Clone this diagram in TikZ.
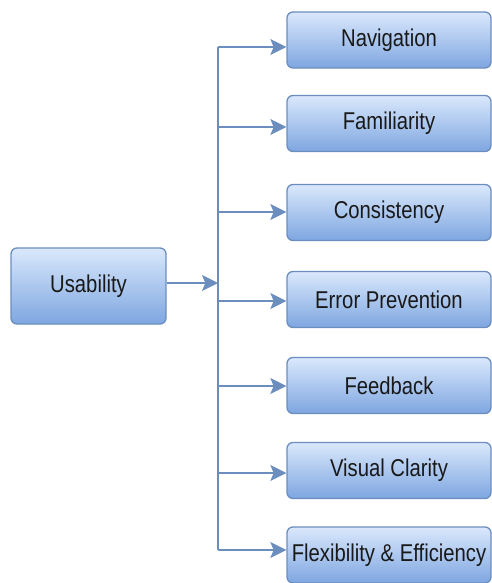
\documentclass[tikz,border=0pt]{standalone}
\usepackage{fontspec}
\setmainfont{Liberation Sans}
\usetikzlibrary{arrows.meta}
\definecolor{boxtop}{HTML}{DAE8FC}
\definecolor{boxbot}{HTML}{7EA6E0}
\definecolor{edge}{HTML}{6C8EBF}
\newcommand{\lbl}[1]{\raisebox{-1.5pt}{\scalebox{1}[1.2]{#1}}}
\begin{document}
\begin{tikzpicture}[x=0.75pt,y=-0.75pt,
  box/.style={draw=edge, line width=1pt, rounded corners=4.5pt,
    top color=boxtop, bottom color=boxbot, text=black!90,
    font=\fontsize{15.2pt}{18pt}\selectfont, inner sep=0pt},
  leaf/.style={box, minimum width=153pt, minimum height=42pt},
  link/.style={draw=edge, line width=1.1pt},
  arrow/.style={link, -{Stealth[length=12pt,width=12pt,inset=2.5pt]}}]
\useasboundingbox (0,0) rectangle (492,583);

% root box
\node[box, minimum width=116.25pt, minimum height=57pt] (usab) at (88.5,286) {\lbl{Usability}};

% leaf boxes
\node[leaf] (nav)  at (389,40)    {\lbl{Navigation}};
\node[leaf] (fam)  at (389,123.5) {\lbl{Familiarity}};
\node[leaf] (con)  at (389,212.5) {\lbl{Consistency}};
\node[leaf] (err)  at (389,299.5) {\lbl{Error Prevention}};
\node[leaf] (feed) at (389,385.5) {\lbl{Feedback}};
\node[leaf] (vis)  at (389,470.5) {\lbl{Visual Clarity}};
\node[leaf] (flex) at (389,555)   {\lbl{Flexibility \& Efficiency}};

% junction points on the vertical trunk
\coordinate (j0) at (218,283);
\coordinate (t1) at (218,47);
\coordinate (t2) at (218,127);
\coordinate (t3) at (218,212);
\coordinate (t4) at (218,301);
\coordinate (t5) at (218,386);
\coordinate (t6) at (218,473);
\coordinate (t7) at (218,550);

% trunk and connectors
\draw[link] (t1) -- (t7);
\draw[arrow] (usab.east |- j0) -- (j0);
\draw[arrow] (t1) -- (nav.west |- t1);
\draw[arrow] (t2) -- (fam.west |- t2);
\draw[arrow] (t3) -- (con.west |- t3);
\draw[arrow] (t4) -- (err.west |- t4);
\draw[arrow] (t5) -- (feed.west |- t5);
\draw[arrow] (t6) -- (vis.west |- t6);
\draw[arrow] (t7) -- (flex.west |- t7);
\end{tikzpicture}
\end{document}
